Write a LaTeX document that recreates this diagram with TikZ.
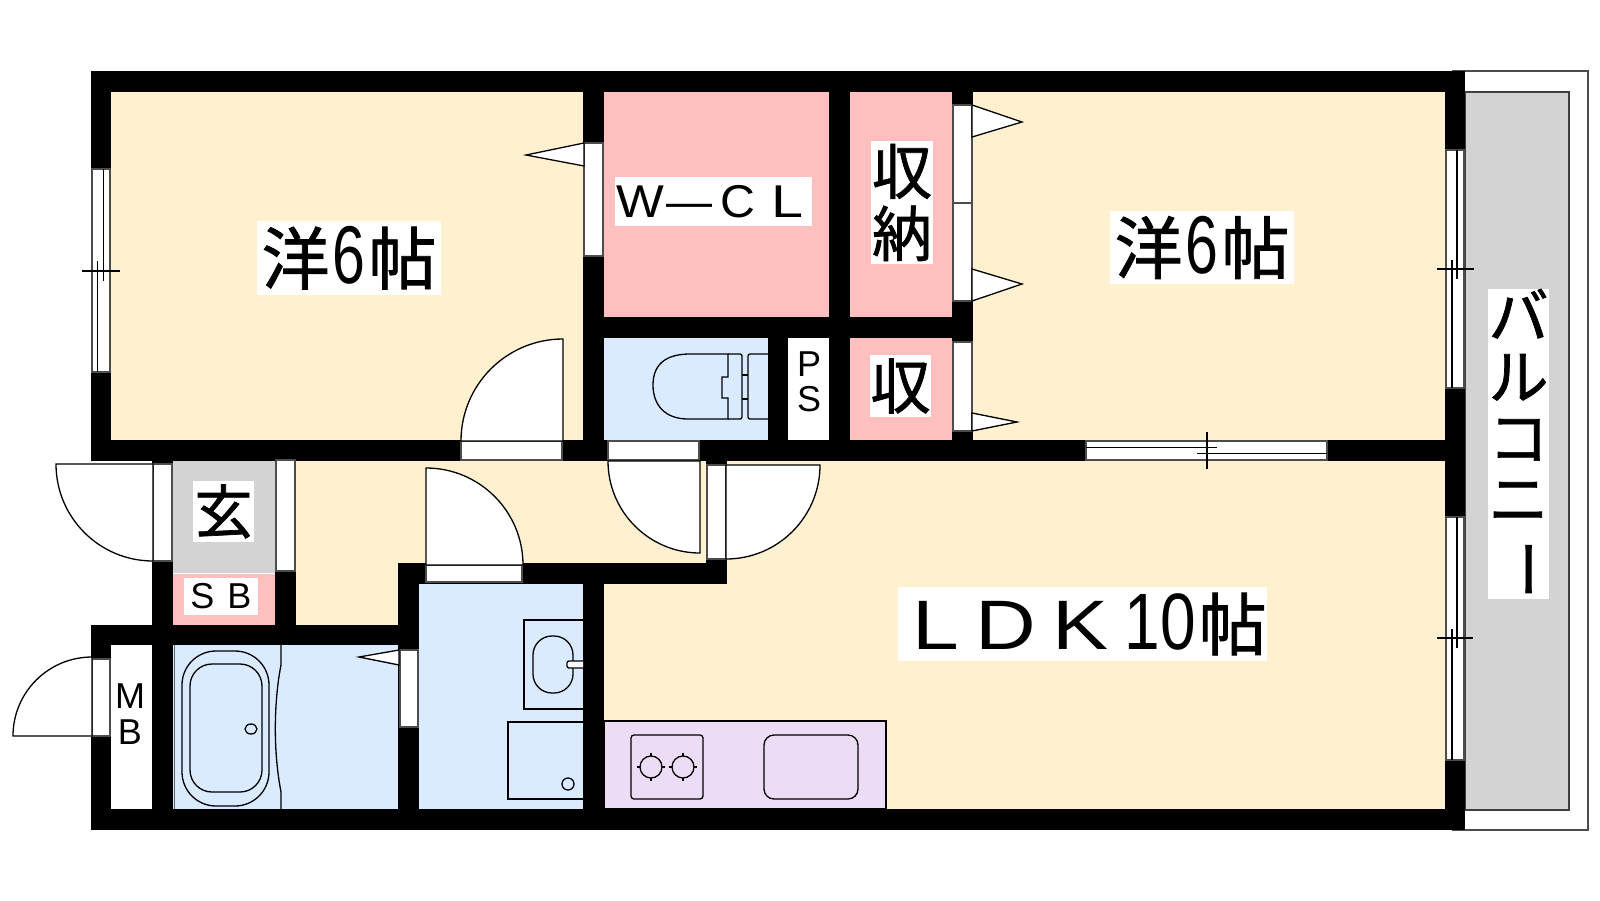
\documentclass[tikz,border=0pt]{standalone}
\usepackage{fontspec}
\usepackage{xcolor}
\setmainfont{Liberation Sans}
\newfontfamily\jpf[FakeBold=1.2]{Noto Sans CJK JP}
\definecolor{floorcream}{HTML}{FFF0CF}
\definecolor{closetpink}{HTML}{FFBFBF}
\definecolor{wetblue}{HTML}{DAEBFF}
\definecolor{kitchenlilac}{HTML}{ECDCF5}
\definecolor{entrygray}{HTML}{D3D3D3}
\newcommand{\cell}[2]{\makebox[#1pt]{#2}}
\newcommand{\slim}[2]{\scalebox{#1}[1]{#2}}
\newcommand{\sizept}[1]{\fontsize{#1}{#1}\selectfont}
\tikzset{
    wall/.style={fill=black},
    winbox/.style={fill=white, draw=black!70, line width=1.2pt},
    winline/.style={draw=black, line width=1.2pt},
    doorleaf/.style={fill=white, draw=black, line width=1.3pt},
    fixture/.style={draw=black, line width=1.3pt},
    roomlabel/.style={fill=white, inner sep=0pt, align=center}
}
\begin{document}
\begin{tikzpicture}[x=1pt,y=-1pt]
    \useasboundingbox (0,0) rectangle (1600,900);

    \fill[white] (0,0) rectangle (1600,900);

    \draw[winbox] (1453,71) rectangle (1588,830);
    \draw[fill=entrygray, draw=black!75, line width=1.2pt] (1465,92) rectangle (1569,810);

    \fill[floorcream] (111,92) rectangle (583,440);
    \fill[floorcream] (973,92) rectangle (1445,440);
    \fill[floorcream] (296,461) rectangle (1445,809);
    \fill[closetpink] (604,92) rectangle (829,317);
    \fill[closetpink] (850,92) rectangle (952,317);
    \fill[closetpink] (850,338) rectangle (952,440);
    \fill[wetblue] (604,338) rectangle (768,440);
    \fill[white] (788,338) rectangle (829,440);
    \fill[entrygray] (173,461) rectangle (275,573);
    \fill[closetpink] (173,574) rectangle (275,625);
    \fill[white] (111,645) rectangle (152,809);
    \fill[wetblue] (173,645) rectangle (398,809);
    \fill[wetblue] (419,584) rectangle (583,809);

    \draw[fixture, fill=kitchenlilac] (604,721) rectangle (886,809);

    \fill[wall] (91,71) rectangle (1465,92);
    \fill[wall] (91,809) rectangle (1465,830);
    \fill[wall] (91,71) rectangle (111,461);
    \fill[wall] (91,440) rectangle (1465,461);
    \fill[wall] (1445,71) rectangle (1465,830);
    \fill[wall] (583,71) rectangle (604,461);
    \fill[wall] (829,71) rectangle (850,461);
    \fill[wall] (952,71) rectangle (973,461);
    \fill[wall] (604,317) rectangle (973,338);
    \fill[wall] (768,338) rectangle (788,440);
    \fill[wall] (152,461) rectangle (173,645);
    \fill[wall] (275,571) rectangle (296,645);
    \fill[wall] (91,625) rectangle (419,645);
    \fill[wall] (91,625) rectangle (111,830);
    \fill[wall] (152,645) rectangle (173,809);
    \fill[wall] (398,563) rectangle (419,830);
    \fill[wall] (398,563) rectangle (727,584);
    \fill[wall] (583,584) rectangle (604,830);
    \fill[wall] (706,461) rectangle (727,584);

    \draw[winbox] (92,169) rectangle (110,372);
    \draw[winline] (103.6,169) -- (103.6,281);
    \draw[winline] (97.5,372) -- (97.5,261);
    \draw[winline] (82,271) -- (120,271);

    \draw[winbox] (1446,150) rectangle (1464,388);
    \draw[winline] (1457,150) -- (1457,279);
    \draw[winline] (1452,388) -- (1452,260);
    \draw[winline] (1437,269) -- (1474,269);

    \draw[winbox] (1446,517) rectangle (1464,760);
    \draw[winline] (1457,517) -- (1457,648);
    \draw[winline] (1452,760) -- (1452,629);
    \draw[winline] (1437,638) -- (1473,638);

    \draw[winbox] (1086,441) rectangle (1327,460);
    \draw[winline] (1086,447.5) -- (1217,447.5);
    \draw[winline] (1327,453.5) -- (1197,453.5);
    \draw[winline] (1207,432) -- (1207,469);

    \draw[winbox] (584,143) rectangle (603,256);
    \draw[doorleaf] (584,143) -- (526,155) -- (584,166) -- cycle;

    \draw[winbox] (953,105) rectangle (972,203);
    \draw[winbox] (953,203) rectangle (972,301);
    \draw[winbox] (953,342) rectangle (972,431);
    \draw[doorleaf] (972,105) -- (1022,122) -- (972,137) -- cycle;
    \draw[doorleaf] (972,269) -- (1022,284) -- (972,301) -- cycle;
    \draw[doorleaf] (972,413) -- (1017,422) -- (972,431) -- cycle;

    \draw[winbox] (400,650) rectangle (418,727);
    \draw[doorleaf] (399,650) -- (359,657) -- (399,665) -- cycle;

    \draw[winbox] (153,464) rectangle (172,561);
    \draw[doorleaf] (153,464) -- (56,464) arc[start angle=180, end angle=90, radius=97] -- cycle;
    \draw[winbox] (276,460) rectangle (295,571);

    \draw[winbox] (92,659) rectangle (110,736);
    \draw[doorleaf] (92,736) -- (13,736) arc[start angle=180, end angle=270, radius=79] -- cycle;

    \draw[winbox] (461,441) rectangle (562,460);
    \draw[doorleaf] (563,441) -- (461,441) arc[start angle=180, end angle=270, radius=102] -- cycle;

    \draw[winbox] (608,441) rectangle (699,460);
    \draw[doorleaf] (700,461) -- (608,461) arc[start angle=180, end angle=90, radius=92] -- cycle;

    \draw[winbox] (707,465) rectangle (726,559);
    \draw[doorleaf] (726,465) -- (820,465) arc[start angle=0, end angle=90, radius=94] -- cycle;

    \draw[winbox] (426,565) rectangle (522,582);
    \draw[doorleaf] (426,565) -- (426,468) arc[start angle=270, end angle=360, radius=97] -- cycle;

    % bath
    \draw[black!60, line width=1pt] (174,645) -- (174,809);
    \draw[fixture, rounded corners=34pt] (182,651) rectangle (269,806);
    \draw[fixture, rounded corners=22pt] (190,664) rectangle (262,792);
    \draw[fixture] (251,729) ellipse (6 and 5);
    \draw[fixture] (281,645) -- (281,665) .. controls (275,695) and (272,745) .. (281,792) -- (281,809);

    % toilet
    \draw[fixture] (728,354) -- (690,354) .. controls (665,354) and (653,365) .. (653,385)
                   .. controls (653,405) and (665,419) .. (688,419) -- (728,419)
                   -- (728,398) -- (722,398) -- (722,377) -- (728,377) -- cycle;
    \draw[fixture, rounded corners=2pt] (728,354) -- (742,354) -- (742,419) -- (728,419);
    \draw[fixture] (742,375) -- (748,375);
    \draw[fixture] (742,399) -- (748,399);
    \draw[fixture, rounded corners=2pt] (768,354) -- (748,354) -- (748,419) -- (768,419);

    % washroom
    \draw[fixture] (583,620) -- (524,620) -- (524,709) -- (583,709);
    \draw[fixture, rounded corners=19pt] (533,636) rectangle (573,693);
    \draw[fixture, fill=white, rounded corners=2pt] (583,661) -- (567,661) -- (567,668) -- (583,668);
    \draw[fixture] (583,722) -- (508,722) -- (508,799) -- (583,799);
    \draw[fixture] (568,784) circle (6);

    % kitchen
    \draw[fixture, rounded corners=3pt] (631,735) rectangle (703,799);
    \draw[fixture] (651,767) circle (11);
    \draw[fixture] (637,767) -- (640,767) (662,767) -- (665,767) (651,753) -- (651,756) (651,778) -- (651,781);
    \draw[fixture] (683,767) circle (11);
    \draw[fixture] (669,767) -- (672,767) (694,767) -- (697,767) (683,753) -- (683,756) (683,778) -- (683,781);
    \draw[fixture, rounded corners=10pt] (764,735) rectangle (858,799);

    % labels
    \node[roomlabel, minimum width=184pt, minimum height=74pt] (room1) at (349,258)
        {\sizept{68}{\jpf 洋}\hspace{3pt}\sizept{82}\slim{.72}{6}\hspace{3pt}\sizept{68}{\jpf 帖}};
    \node[roomlabel, minimum width=184pt, minimum height=73pt] (room2) at (1202,247.5)
        {\sizept{68}{\jpf 洋}\hspace{3pt}\sizept{82}\slim{.72}{6}\hspace{3pt}\sizept{68}{\jpf 帖}};
    \node[roomlabel, minimum width=369pt, minimum height=74pt] (ldk) at (1082.5,624)
        {\sizept{70}\cell{75}{\slim{1.2}{L}}\cell{64}{\slim{1.2}{D}}\cell{87}{\slim{1.2}{K}}\sizept{80}\slim{.8}{10}\hspace{3pt}\sizept{68}{\jpf 帖}};
    \node[roomlabel, minimum width=197pt, minimum height=49pt] (wcl) at (713.5,201.5)
        {\sizept{46}\cell{49}{\slim{1.1}{W}}\cell{49}{—}\cell{49}{\slim{1.05}{C}}\cell{49}{\slim{1.25}{L}}};
    \node[roomlabel, font=\fontsize{60}{62}\selectfont\jpf, minimum width=62pt, minimum height=123pt] (closet1) at (902,202.5)
        {収\\納};
    \node[roomlabel, font=\sizept{60}\jpf, minimum width=61pt, minimum height=62pt] (closet2) at (900.5,386)
        {収};
    \node[roomlabel, font=\sizept{58}\jpf, minimum width=61pt, minimum height=61pt] (entry) at (223.5,511.5)
        {玄};
    \node[roomlabel, minimum width=74pt, minimum height=37pt] (sb) at (221,596.5)
        {\sizept{36}\cell{37}{S}\cell{37}{B}};
    \node[roomlabel, font=\fontsize{36}{35}\selectfont] (ps) at (809,382)
        {P\\S};
    \node[roomlabel, font=\fontsize{36}{36}\selectfont] (mb) at (130,714)
        {M\\B};
    \node[roomlabel, font=\fontsize{60}{61}\selectfont\jpf, minimum width=61pt, minimum height=308pt] (balcony) at (1518.5,444)
        {バ\\ル\\コ\\ニ\\\rotatebox[origin=c]{-90}{ー}};
\end{tikzpicture}
\end{document}
